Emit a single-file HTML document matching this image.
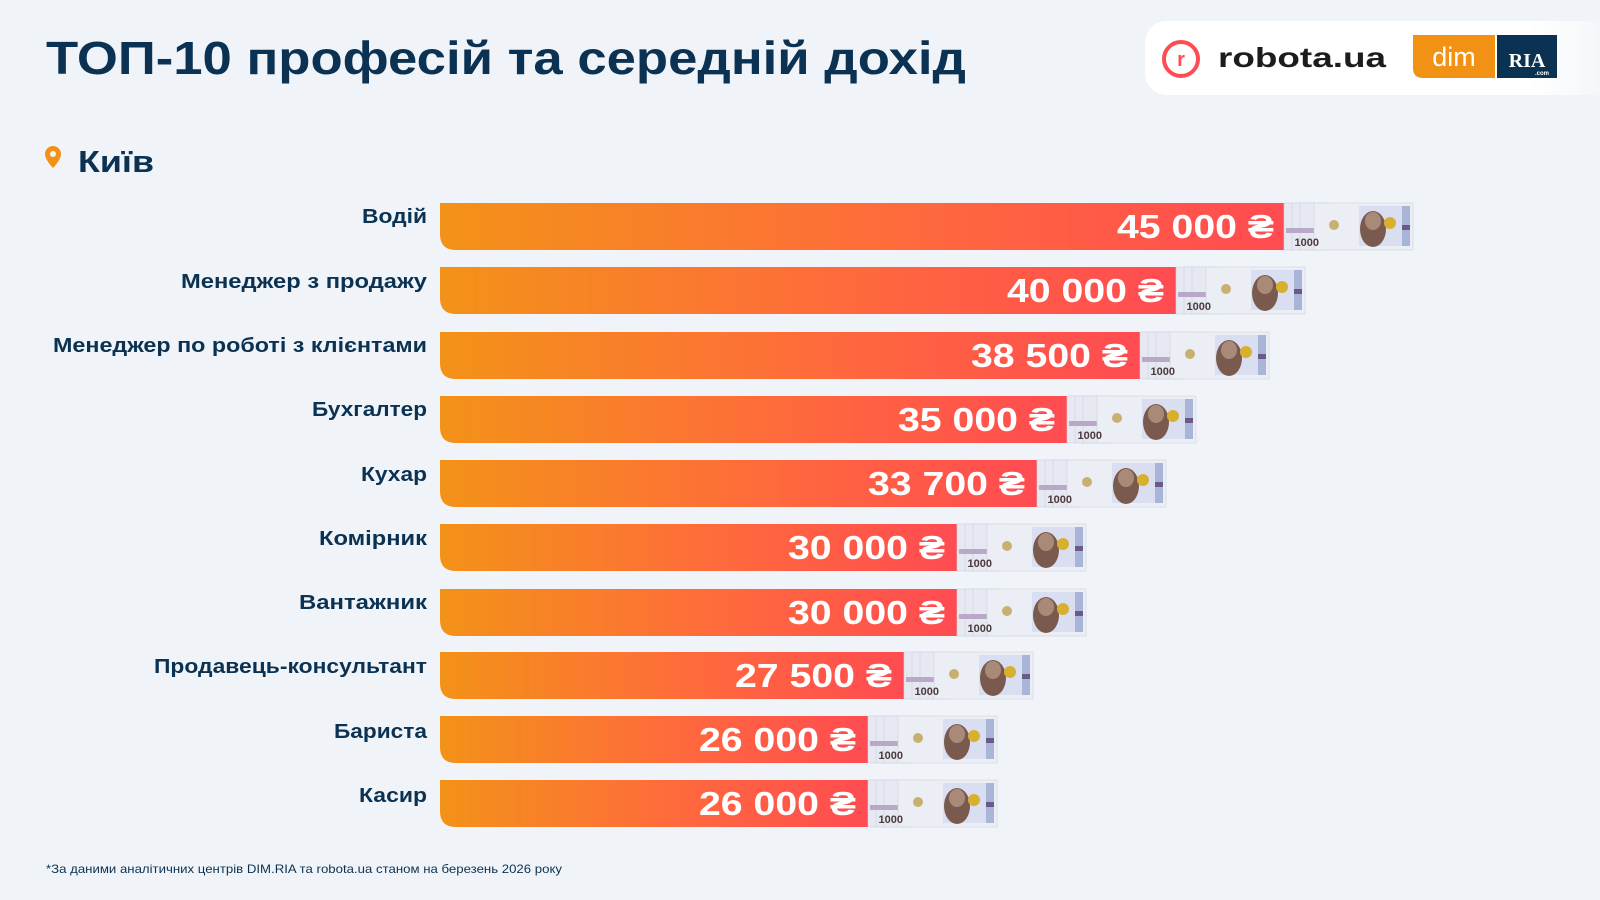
<!DOCTYPE html>
<html><head><meta charset="utf-8"><style>
html,body{margin:0;padding:0;background:#f0f4f8;}
svg{display:block}
text{font-family:"Liberation Sans",sans-serif;font-weight:bold}
</style></head><body>
<svg width="1600" height="900" viewBox="0 0 1600 900" xmlns="http://www.w3.org/2000/svg">
<defs>
<linearGradient id="g" x1="0" x2="1" y1="0" y2="0">
<stop offset="0" stop-color="#f39218"/><stop offset="0.55" stop-color="#ff6a3c"/><stop offset="1" stop-color="#ff4b52"/>
</linearGradient>
<linearGradient id="fade" x1="0" x2="1"><stop offset="0.8" stop-color="#fff"/><stop offset="1" stop-color="#f0f4f8"/></linearGradient>
<g id="note">
<rect x="0" y="0" width="30" height="47" fill="#e6e8f2" stroke="#cfd3e0" stroke-width="0.6"/>
<rect x="8" y="0" width="30" height="47" fill="#e6e8f2" stroke="#cfd3e0" stroke-width="0.6"/>
<rect x="16" y="0" width="30" height="47" fill="#e6e8f2" stroke="#cfd3e0" stroke-width="0.6"/>
<rect x="2" y="25" width="36" height="5" fill="#b9a8c8"/>
<rect x="30" y="0" width="99" height="47" fill="#eceef5" stroke="#cfd3e0" stroke-width="0.6"/>
<rect x="75" y="3" width="50" height="40" fill="#d9def0"/>
<ellipse cx="89" cy="26" rx="13" ry="18" fill="#7a5a4e"/>
<ellipse cx="89" cy="18" rx="8" ry="9" fill="#a98a78"/>
<circle cx="106" cy="20" r="6" fill="#d8b030"/>
<rect x="118" y="3" width="8" height="40" fill="#a8b4d8"/>
<rect x="118" y="22" width="8" height="5" fill="#6a5a8a"/>
<circle cx="50" cy="22" r="5" fill="#c8b070"/>
<text x="35" y="43" font-size="11" fill="#4a3a3a" font-family="Liberation Sans">1000</text>
</g>
</defs>
<text x="46" y="74" font-size="46" fill="#0b3252" textLength="920" lengthAdjust="spacingAndGlyphs">ТОП-10 професій та середній дохід</text>
<rect x="1145" y="21" width="480" height="74" rx="22" fill="url(#fade)"/>
<circle cx="1181" cy="59" r="17" fill="none" stroke="#ff4b52" stroke-width="4"/>
<text x="1181" y="66" font-size="20" fill="#ff4b52" text-anchor="middle">r</text>
<text x="1218" y="67" font-size="28" fill="#1c1c1c" textLength="168" lengthAdjust="spacingAndGlyphs">robota.ua</text>
<path d="M1413 35 H1495 V78 H1423 Q1413 78 1413 68 Z" fill="#f29214"/>
<text x="1454" y="66" font-size="27" fill="#fff" text-anchor="middle" style="font-weight:normal">dim</text>
<rect x="1497" y="35" width="60" height="43" fill="#0b3252"/>
<text x="1527" y="67" font-size="20" fill="#fff" text-anchor="middle" style="font-family:'Liberation Serif'">RIA</text>
<text x="1549" y="75" font-size="6" fill="#fff" text-anchor="end">.com</text>
<path d="M53 146 a8 8 0 0 1 8 8 c0 6 -8 14 -8 14 c0 0 -8 -8 -8 -14 a8 8 0 0 1 8 -8z" fill="#f29214"/>
<circle cx="53" cy="154" r="3" fill="#f0f4f8"/>
<text x="78" y="172" font-size="31" fill="#0b3252" textLength="76" lengthAdjust="spacingAndGlyphs">Київ</text>
<g font-size="20" fill="#0b3252" text-anchor="end" lengthAdjust="spacingAndGlyphs">
<text x="427" y="223" textLength="65" lengthAdjust="spacingAndGlyphs">Водій</text>
<text x="427" y="288" textLength="246" lengthAdjust="spacingAndGlyphs">Менеджер з продажу</text>
<text x="427" y="352" textLength="374" lengthAdjust="spacingAndGlyphs">Менеджер по роботі з клієнтами</text>
<text x="427" y="416" textLength="115" lengthAdjust="spacingAndGlyphs">Бухгалтер</text>
<text x="427" y="481" textLength="66" lengthAdjust="spacingAndGlyphs">Кухар</text>
<text x="427" y="545" textLength="108" lengthAdjust="spacingAndGlyphs">Комірник</text>
<text x="427" y="609" textLength="128" lengthAdjust="spacingAndGlyphs">Вантажник</text>
<text x="427" y="673" textLength="273" lengthAdjust="spacingAndGlyphs">Продавець-консультант</text>
<text x="427" y="738" textLength="93" lengthAdjust="spacingAndGlyphs">Бариста</text>
<text x="427" y="802" textLength="68" lengthAdjust="spacingAndGlyphs">Касир</text>
</g>
<g font-size="33" fill="#fff" text-anchor="end">
<path d="M440 203 H1284 V250 H456 Q440 250 440 234Z" fill="url(#g)"/><use href="#note" x="1284" y="203"/><text x="1274" y="238" textLength="157" lengthAdjust="spacingAndGlyphs">45 000 ₴</text>
<path d="M440 267 H1176 V314 H456 Q440 314 440 298Z" fill="url(#g)"/><use href="#note" x="1176" y="267"/><text x="1164" y="302" textLength="157" lengthAdjust="spacingAndGlyphs">40 000 ₴</text>
<path d="M440 332 H1140 V379 H456 Q440 379 440 363Z" fill="url(#g)"/><use href="#note" x="1140" y="332"/><text x="1128" y="367" textLength="157" lengthAdjust="spacingAndGlyphs">38 500 ₴</text>
<path d="M440 396 H1067 V443 H456 Q440 443 440 427Z" fill="url(#g)"/><use href="#note" x="1067" y="396"/><text x="1055" y="431" textLength="157" lengthAdjust="spacingAndGlyphs">35 000 ₴</text>
<path d="M440 460 H1037 V507 H456 Q440 507 440 491Z" fill="url(#g)"/><use href="#note" x="1037" y="460"/><text x="1025" y="495" textLength="157" lengthAdjust="spacingAndGlyphs">33 700 ₴</text>
<path d="M440 524 H957 V571 H456 Q440 571 440 555Z" fill="url(#g)"/><use href="#note" x="957" y="524"/><text x="945" y="559" textLength="157" lengthAdjust="spacingAndGlyphs">30 000 ₴</text>
<path d="M440 589 H957 V636 H456 Q440 636 440 620Z" fill="url(#g)"/><use href="#note" x="957" y="589"/><text x="945" y="624" textLength="157" lengthAdjust="spacingAndGlyphs">30 000 ₴</text>
<path d="M440 652 H904 V699 H456 Q440 699 440 683Z" fill="url(#g)"/><use href="#note" x="904" y="652"/><text x="892" y="687" textLength="157" lengthAdjust="spacingAndGlyphs">27 500 ₴</text>
<path d="M440 716 H868 V763 H456 Q440 763 440 747Z" fill="url(#g)"/><use href="#note" x="868" y="716"/><text x="856" y="751" textLength="157" lengthAdjust="spacingAndGlyphs">26 000 ₴</text>
<path d="M440 780 H868 V827 H456 Q440 827 440 811Z" fill="url(#g)"/><use href="#note" x="868" y="780"/><text x="856" y="815" textLength="157" lengthAdjust="spacingAndGlyphs">26 000 ₴</text>
</g>
<text x="46" y="873" font-size="12" fill="#0b3252" style="font-weight:normal" textLength="516" lengthAdjust="spacingAndGlyphs">*За даними аналітичних центрів DIM.RIA та robota.ua станом на березень 2026 року</text>
</svg>
</body></html>
